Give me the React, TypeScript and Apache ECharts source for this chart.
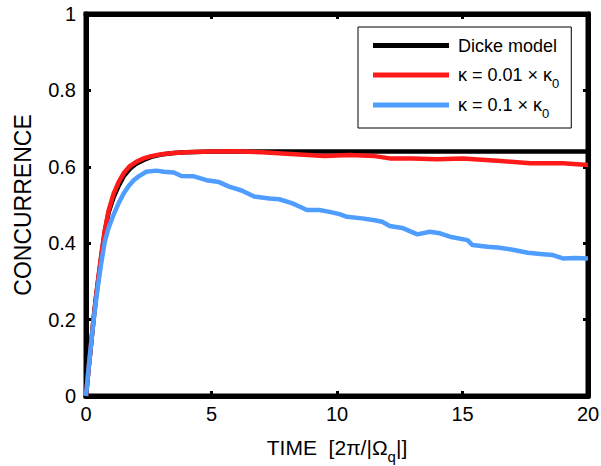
import React, { useEffect, useRef } from "react";
import * as echarts from "echarts";

const dickeT = [0, 0.1, 0.2, 0.3, 0.4, 0.5, 0.6, 0.75, 0.9, 1.1, 1.3, 1.5, 1.75, 2, 2.3, 2.6, 3, 3.5, 4, 5, 6, 8, 10, 15, 20];
const dickeY = [0, 0.07, 0.135, 0.2, 0.26, 0.31, 0.36, 0.43, 0.48, 0.52, 0.55, 0.575, 0.595, 0.608, 0.618, 0.626, 0.632, 0.636, 0.638, 0.64, 0.64, 0.64, 0.64, 0.64, 0.64];

const redT = [0, 0.1, 0.2, 0.3, 0.4, 0.5, 0.6, 0.75, 0.9, 1.1, 1.3, 1.5, 1.75, 2, 2.3, 2.6, 3, 3.5, 4, 5, 6, 7, 8, 9, 9.5, 10.5, 11.5, 12.1, 13, 14, 15, 16.4, 17.7, 19, 20];
const redY = [0, 0.07, 0.135, 0.2, 0.26, 0.315, 0.365, 0.435, 0.485, 0.53, 0.56, 0.583, 0.602, 0.613, 0.622, 0.628, 0.633, 0.636, 0.638, 0.64, 0.641, 0.638, 0.634, 0.63, 0.628, 0.631, 0.628, 0.622, 0.622, 0.62, 0.622, 0.616, 0.609, 0.609, 0.605];

const blueT = [0, 0.1, 0.2, 0.3, 0.4, 0.5, 0.6, 0.75, 0.9, 1.1, 1.3, 1.5, 1.7, 1.9, 2.1, 2.4, 2.8, 3.1, 3.5, 3.8, 4.3, 4.8, 5.3, 5.7, 6.2, 6.7, 7.3, 7.7, 8.2, 8.5, 8.8, 9.3, 9.7, 10.1, 10.4, 11, 11.5, 11.8, 12.1, 12.6, 13.2, 13.7, 14.1, 14.5, 15.2, 15.4, 16, 16.4, 17, 17.6, 18.1, 18.6, 19, 19.5, 20];
const blueY = [0, 0.07, 0.135, 0.195, 0.25, 0.3, 0.345, 0.405, 0.44, 0.475, 0.505, 0.53, 0.55, 0.565, 0.575, 0.587, 0.59, 0.587, 0.585, 0.576, 0.575, 0.565, 0.56, 0.548, 0.538, 0.522, 0.517, 0.515, 0.505, 0.496, 0.487, 0.487, 0.482, 0.476, 0.469, 0.465, 0.46, 0.456, 0.445, 0.44, 0.423, 0.43, 0.426, 0.417, 0.408, 0.395, 0.391, 0.389, 0.383, 0.375, 0.372, 0.369, 0.36, 0.361, 0.36];

const seriesNames = ["Dicke model", "κ = 0.01 × κ{sub|0}", "κ = 0.1 × κ{sub|0}"];
const seriesColors = ["#000000", "#ff1a1a", "#4f9dff"];

const FONT = "Liberation Sans, Arial, sans-serif";

function zip(t: number[], y: number[]) {
  return t.map((v, i) => [v, y[i]]);
}

export default function App() {
  const ref = useRef<HTMLDivElement>(null);
  useEffect(() => {
    if (!ref.current) return;
    const chart = echarts.init(ref.current, undefined, { renderer: "svg" });
    const mkLine = () => ({ show: true, onZero: false, lineStyle: { color: "#000", width: 5 } });
    const mkTick = () => ({ show: true, inside: true, length: 5, lineStyle: { color: "#000", width: 3 } });
    const legendSub = { fontSize: 13, fontFamily: FONT, color: "#000", verticalAlign: "bottom" as const, lineHeight: 30 };
    const nameSub = { fontSize: 15, fontFamily: FONT, color: "#000", verticalAlign: "bottom" as const, lineHeight: 34 };
    chart.setOption({
      animation: false,
      backgroundColor: "#fff",
      grid: {
        left: 86, right: 13, top: 14, bottom: 70,
        outerBoundsMode: "none",
        containLabel: false,
        show: true, borderWidth: 5, borderColor: "#000", backgroundColor: "transparent",
      },
      legend: {
        orient: "vertical",
        left: 358,
        top: 27,
        padding: [4, 12, 8, 15],
        borderColor: "#000",
        borderWidth: 1,
        backgroundColor: "#fff",
        itemWidth: 76,
        itemHeight: 5,
        itemGap: 0,
        icon: "rect",
        data: seriesNames,
        formatter: (n: string) => n,
        textStyle: {
          fontSize: 18,
          fontFamily: FONT,
          color: "#000",
          lineHeight: 29,
          padding: [0, 0, 0, 4],
          rich: { sub: legendSub },
        },
      },
      xAxis: [
        {
          type: "value",
          min: 0,
          max: 20,
          interval: 5,
          position: "bottom",
          name: "TIME  [2π/|Ω{sub|q}|]",
          nameLocation: "middle",
          nameGap: 34,
          nameTextStyle: { fontSize: 21, fontFamily: FONT, color: "#000", rich: { sub: nameSub } },
          axisLine: mkLine(),
          axisTick: mkTick(),
          splitLine: { show: false },
          axisLabel: { fontSize: 20, fontFamily: FONT, color: "#000", margin: 8 },
        },
        {
          type: "value",
          min: 0,
          max: 20,
          interval: 5,
          position: "top",
          axisLine: mkLine(),
          axisTick: mkTick(),
          splitLine: { show: false },
          axisLabel: { show: false },
        },
      ],
      yAxis: [
        {
          type: "value",
          min: 0,
          max: 1,
          interval: 0.2,
          position: "left",
          name: "CONCURRENCE",
          nameLocation: "middle",
          nameGap: 52,
          nameTextStyle: { fontSize: 23, fontFamily: FONT, color: "#000" },
          axisLine: mkLine(),
          axisTick: mkTick(),
          splitLine: { show: false },
          axisLabel: { fontSize: 20, fontFamily: FONT, color: "#000", margin: 10 },
        },
        {
          type: "value",
          min: 0,
          max: 1,
          interval: 0.2,
          position: "right",
          axisLine: mkLine(),
          axisTick: mkTick(),
          splitLine: { show: false },
          axisLabel: { show: false },
        },
      ],
      series: [
        { name: seriesNames[0], data: zip(dickeT, dickeY), z: 3 },
        { name: seriesNames[1], data: zip(redT, redY), z: 4 },
        { name: seriesNames[2], data: zip(blueT, blueY), z: 5 },
      ].map((s, i) => ({
        ...s,
        type: "line",
        showSymbol: false,
        symbol: "none",
        color: seriesColors[i],
        lineStyle: { color: seriesColors[i], width: 4.5 },
      })),
    });
    return () => chart.dispose();
  }, []);
  return <div ref={ref} style={{ position: "fixed", left: 0, top: 0, width: 601, height: 466 }} />;
}
